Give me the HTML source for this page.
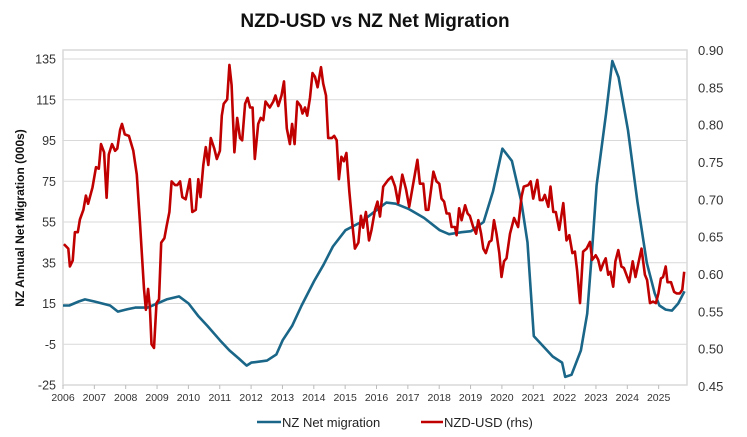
<!DOCTYPE html>
<html><head><meta charset="utf-8"><style>
body{margin:0;background:#fff;}
svg{display:block;font-family:"Liberation Sans",sans-serif;}
</style></head><body>
<svg id="chart" width="747" height="437" viewBox="0 0 747 437">
<text x="375" y="27" text-anchor="middle" font-size="19" font-weight="bold" fill="#111">NZD-USD vs NZ Net Migration</text>
<rect x="63" y="50" width="624" height="335" fill="none" stroke="#d9d9d9" stroke-width="1.5"/>
<g id="grid"></g>
<g id="axes"></g>
<g id="series"></g>
<text transform="translate(24,218) rotate(-90)" text-anchor="middle" font-size="12" font-weight="bold" fill="#111">NZ Annual Net Migration (000s)</text>
<g>
<line x1="257" y1="422" x2="281" y2="422" stroke="#1a6688" stroke-width="2.5"/>
<text x="282" y="427" font-size="13" fill="#222">NZ Net migration</text>
<line x1="421" y1="422" x2="443" y2="422" stroke="#c00000" stroke-width="2.5"/>
<text x="444" y="427" font-size="13" fill="#222">NZD-USD (rhs)</text>
</g>
</svg>
<script>
const leftTicks=[135,115,95,75,55,35,15,-5,-25];
const rightTicks=["0.90","0.85","0.80","0.75","0.70","0.65","0.60","0.55","0.50","0.45"];
const years=[2006,2007,2008,2009,2010,2011,2012,2013,2014,2015,2016,2017,2018,2019,2020,2021,2022,2023,2024,2025];
const migDates=[2006.0,2006.2,2006.5,2006.7,2007.0,2007.5,2007.75,2008.0,2008.3,2008.7,2009.0,2009.3,2009.7,2010.0,2010.3,2010.6,2011.0,2011.3,2011.6,2011.85,2012.0,2012.5,2012.8,2013.0,2013.3,2013.6,2014.0,2014.3,2014.6,2015.0,2015.5,2016.0,2016.3,2016.6,2017.0,2017.5,2018.0,2018.3,2018.7,2019.0,2019.4,2019.7,2020.0,2020.3,2020.6,2020.8,2021.0,2021.3,2021.6,2021.9,2022.0,2022.2,2022.5,2022.7,2022.85,2023.0,2023.3,2023.5,2023.7,2024.0,2024.3,2024.6,2024.85,2025.0,2025.2,2025.4,2025.6,2025.8];
const migValues=[14,14,16,17,16,14,11,12,13,13,15,17,18.5,15,9,4,-3,-8,-12,-15.5,-14,-13,-10,-3,4,14,26,34,43,51,55,61,64.5,64,61.5,57,51,49,50,50.5,55,70,91,85,65,45,-1,-6,-11,-14,-21,-20,-8,10,40,73,108,134,126,100,65,35,20,14,12,11.5,15,21];
const nzdDates=[2006.03,2006.17,2006.22,2006.31,2006.38,2006.47,2006.54,2006.65,2006.73,2006.80,2006.94,2007.05,2007.14,2007.21,2007.31,2007.39,2007.46,2007.56,2007.66,2007.73,2007.82,2007.88,2007.97,2008.10,2008.24,2008.35,2008.45,2008.58,2008.64,2008.71,2008.77,2008.82,2008.90,2008.98,2009.06,2009.13,2009.23,2009.30,2009.39,2009.46,2009.57,2009.64,2009.73,2009.80,2009.91,2010.04,2010.12,2010.23,2010.31,2010.38,2010.47,2010.55,2010.63,2010.71,2010.82,2010.90,2011.00,2011.06,2011.12,2011.23,2011.30,2011.37,2011.46,2011.55,2011.64,2011.71,2011.80,2011.88,2011.96,2012.04,2012.11,2012.22,2012.30,2012.38,2012.45,2012.59,2012.70,2012.77,2012.86,2012.96,2013.04,2013.13,2013.23,2013.30,2013.38,2013.46,2013.57,2013.63,2013.71,2013.78,2013.87,2013.95,2014.03,2014.11,2014.22,2014.29,2014.38,2014.45,2014.56,2014.64,2014.72,2014.79,2014.87,2014.95,2015.03,2015.12,2015.21,2015.30,2015.41,2015.49,2015.56,2015.65,2015.75,2015.83,2015.94,2016.02,
2016.10,2016.20,2016.36,2016.47,2016.58,2016.68,2016.81,2016.93,2017.03,2017.14,2017.29,2017.37,2017.48,2017.56,2017.64,2017.80,2017.90,2017.99,2018.06,2018.14,2018.22,2018.31,2018.38,2018.49,2018.54,2018.62,2018.70,2018.81,2018.89,2018.96,2019.07,2019.16,2019.23,2019.32,2019.39,2019.47,2019.58,2019.65,2019.73,2019.81,2019.90,2019.97,2020.05,2020.13,2020.24,2020.37,2020.50,2020.61,2020.68,2020.82,2020.90,2020.98,2021.11,2021.19,2021.28,2021.35,2021.46,2021.53,2021.62,2021.70,2021.81,2021.94,2022.04,2022.13,2022.23,2022.31,2022.38,2022.47,2022.57,2022.68,2022.79,2022.86,2022.97,2023.05,2023.13,2023.21,2023.29,2023.37,2023.44,2023.53,2023.60,2023.69,2023.79,2023.87,2023.95,2024.04,2024.15,2024.24,2024.33,2024.43,2024.54,2024.61,2024.70,2024.80,2024.89,2024.97,2025.05,2025.12,2025.20,2025.26,2025.37,2025.47,2025.55,2025.65,2025.73,2025.79];
const nzdValues=[0.640,0.634,0.610,0.618,0.656,0.656,0.673,0.686,0.705,0.694,0.716,0.743,0.741,0.774,0.763,0.702,0.760,0.774,0.765,0.768,0.793,0.801,0.787,0.785,0.765,0.733,0.670,0.580,0.552,0.580,0.555,0.506,0.501,0.561,0.566,0.642,0.648,0.664,0.683,0.724,0.719,0.719,0.724,0.703,0.700,0.727,0.683,0.686,0.727,0.703,0.746,0.770,0.746,0.782,0.768,0.754,0.765,0.812,0.828,0.834,0.880,0.853,0.763,0.809,0.782,0.779,0.828,0.836,0.823,0.823,0.754,0.801,0.809,0.806,0.831,0.823,0.831,0.839,0.825,0.839,0.858,0.795,0.774,0.801,0.774,0.831,0.825,0.815,0.823,0.812,0.836,0.869,0.864,0.850,0.877,0.855,0.839,0.782,0.782,0.785,0.779,0.727,0.757,0.751,0.762,0.711,0.670,0.634,0.642,0.678,0.662,0.683,0.645,0.659,0.686,0.697,
0.677,0.717,0.726,0.730,0.717,0.695,0.733,0.713,0.690,0.717,0.753,0.721,0.721,0.686,0.686,0.737,0.724,0.721,0.701,0.697,0.681,0.681,0.663,0.663,0.652,0.688,0.672,0.692,0.681,0.678,0.663,0.654,0.672,0.654,0.634,0.628,0.643,0.645,0.672,0.654,0.628,0.596,0.617,0.621,0.654,0.675,0.663,0.704,0.717,0.719,0.724,0.701,0.726,0.699,0.699,0.706,0.690,0.717,0.683,0.683,0.659,0.695,0.645,0.652,0.628,0.630,0.605,0.561,0.630,0.634,0.643,0.619,0.625,0.619,0.605,0.614,0.621,0.599,0.603,0.583,0.617,0.632,0.610,0.608,0.599,0.589,0.617,0.596,0.614,0.634,0.599,0.592,0.561,0.563,0.561,0.574,0.594,0.596,0.610,0.589,0.589,0.576,0.574,0.574,0.579,0.603];

const NS="http://www.w3.org/2000/svg";
const X0=63,X1=687,T0=2006,T1=2025.88;
const xS=t=>X0+(t-T0)/(T1-T0)*(X1-X0);
const yL=v=>59+(135-v)*(326/160);
const yR=v=>50+(0.90-v)*(336/0.45);
function mk(tag,attrs,parent,txt){const e=document.createElementNS(NS,tag);for(const k in attrs)e.setAttribute(k,attrs[k]);if(txt!==undefined)e.textContent=txt;parent.appendChild(e);return e;}
const grid=document.getElementById('grid'),axes=document.getElementById('axes'),series=document.getElementById('series');
leftTicks.forEach(v=>{
  if(v!==-25){const g=mk('line',{x1:X0,x2:X1,y1:yL(v),y2:yL(v),stroke:'#d9d9d9','stroke-width':1},grid);
  
  }
  const t=mk('text',{x:56,y:yL(v)+4.5,'text-anchor':'end','font-size':12.5,fill:'#333'},axes,String(v));
  
  
});
rightTicks.forEach(s=>{
  const t=mk('text',{x:698,y:yR(parseFloat(s))+5,'font-size':13,fill:'#333'},axes,s);
  
  
});
years.forEach(y=>{
  const x=X0+(y-T0)*31.35;
  const tk=mk('line',{x1:x,x2:x,y1:385,y2:389,stroke:'#bbb'},axes);
  
  
  const t=mk('text',{x:x,y:401,'text-anchor':'middle','font-size':10.5,fill:'#333'},axes,String(y));
  
  
});
function line(dates,vals,ys,color,name){
  const d=dates.map((t,i)=>(i?'L':'M')+xS(t).toFixed(1)+','+ys(vals[i]).toFixed(1)).join('');
  const p=mk('path',{d:d,fill:'none',stroke:color,'stroke-width':2.6,'stroke-linejoin':'round'},series);
  
  
}
line(migDates,migValues,yL,'#1a6688','migration-line');
line(nzdDates,nzdValues,yR,'#c00000','nzd-usd-line');
</script>
</body></html>
